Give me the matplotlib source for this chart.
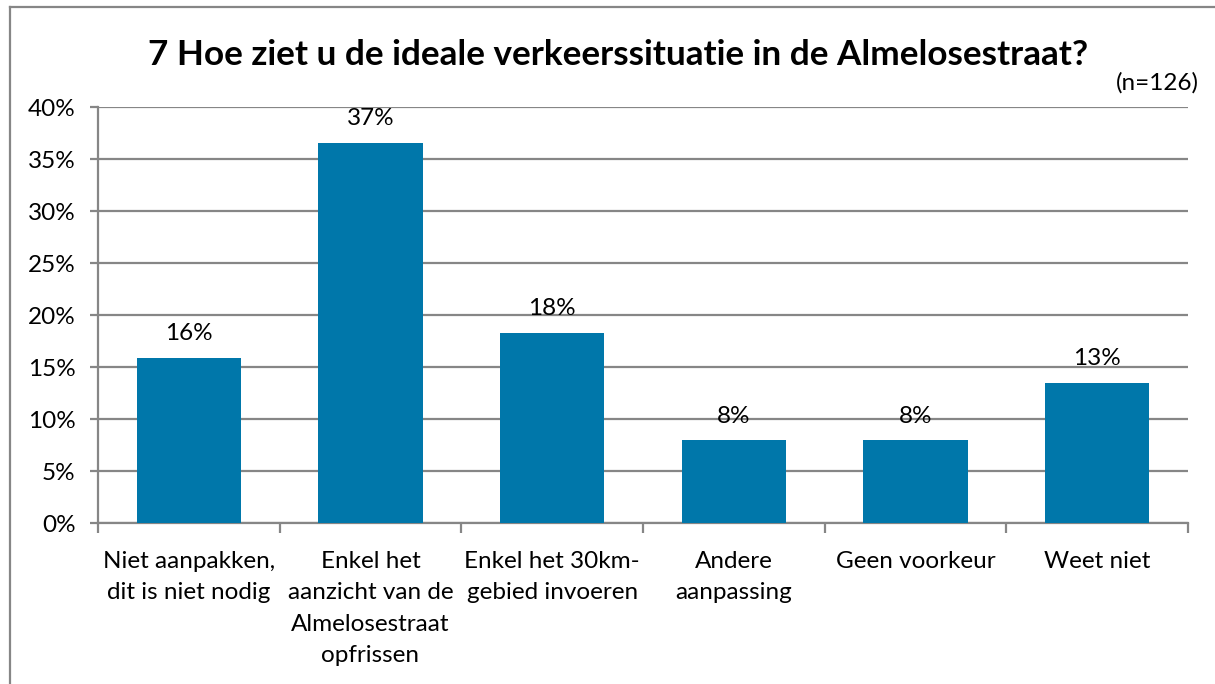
import matplotlib
matplotlib.use("Agg")
import matplotlib.pyplot as plt
from matplotlib.lines import Line2D
from matplotlib.ticker import FixedLocator, PercentFormatter

plt.rcParams['font.family'] = ['Lato', 'DejaVu Sans']

title = "7 Hoe ziet u de ideale verkeerssituatie in de Almelosestraat?"
note = "(n=126)"
categories = [
    "Niet aanpakken,\ndit is niet nodig",
    "Enkel het\naanzicht van de\nAlmelosestraat\nopfrissen",
    "Enkel het 30km-\ngebied invoeren",
    "Andere\naanpassing",
    "Geen voorkeur",
    "Weet niet",
]
values = [15.87, 36.51, 18.25, 7.94, 7.94, 13.49]
labels = ["16%", "37%", "18%", "8%", "8%", "13%"]
yticks = [0, 5, 10, 15, 20, 25, 30, 35, 40]

bar_color = "#0077AA"
grid_color = "#868686"
fs = 17.5

fig = plt.figure(figsize=(12.15, 6.84), dpi=100)
ax = fig.add_axes([98/1215, 1 - 523/684, (1188-98)/1215, (523-107)/684])

x = list(range(len(categories)))
bars = ax.bar(x, values, width=0.573, color=bar_color, zorder=3)
ax.set_xlim(-0.5, len(categories) - 0.5)
ax.set_ylim(0, 40)
ax.set_yticks(yticks)
ax.yaxis.set_major_formatter(PercentFormatter(decimals=0))
ax.yaxis.grid(True, color=grid_color, linewidth=1.6, zorder=0)
ax.tick_params(axis='y', length=6, width=1.6, color=grid_color, labelsize=fs, pad=10)

ax.set_xticks(x)
ax.set_xticklabels(categories, fontsize=fs, linespacing=1.62, va='top')
ax.tick_params(axis='x', length=0, pad=20)
ax.xaxis.set_minor_locator(FixedLocator([i - 0.5 for i in range(len(categories) + 1)]))
ax.tick_params(axis='x', which='minor', length=7, width=1.6, color=grid_color)

for s in ['top', 'right']:
    ax.spines[s].set_visible(False)
for s in ['left', 'bottom']:
    ax.spines[s].set_color(grid_color)
    ax.spines[s].set_linewidth(1.6)

for b, lab in zip(bars, labels):
    ax.annotate(lab, (b.get_x() + b.get_width() / 2, b.get_height()),
                xytext=(0, 10), textcoords='offset points', ha='center', va='bottom',
                fontsize=fs)

fig.text(618/1215, 1 - 55/684, title, ha='center', va='center', fontsize=25.3, fontweight='bold')
fig.text(1199/1215, 1 - 83/684, note, ha='right', va='center', fontsize=fs)

fig.add_artist(Line2D([10/1215, 1], [1 - 7/684, 1 - 7/684], color=grid_color, linewidth=1.6))
fig.add_artist(Line2D([10/1215, 10/1215], [0, 1 - 7/684], color=grid_color, linewidth=1.6))

fig.savefig("out.png", dpi=100, facecolor='white')
